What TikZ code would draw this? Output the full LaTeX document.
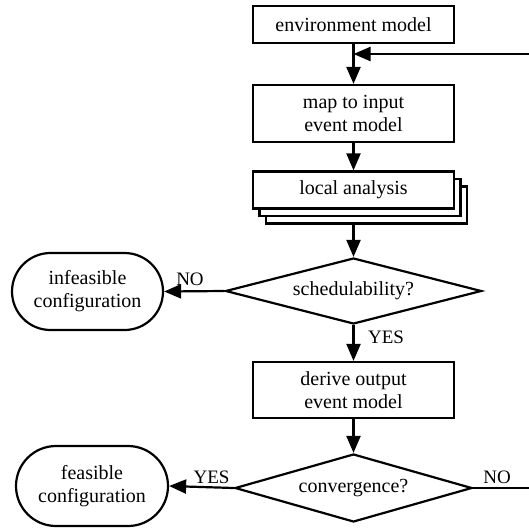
\documentclass[tikz,border=0pt]{standalone}
\usepackage{fontspec}
\setmainfont{Liberation Serif}
\usetikzlibrary{shapes.geometric,shapes.misc,shadows,arrows.meta}
\begin{document}
\begin{tikzpicture}[x=1pt,y=-1pt,
  every node/.style={font=\fontsize{20}{23}\selectfont, align=center},
  procbox/.style={draw, line width=2.2pt, fill=white, rectangle, inner sep=0pt},
  decision/.style={draw, line width=2.2pt, diamond, aspect=3.7, inner sep=0pt},
  terminal/.style={draw, line width=2.2pt, rounded rectangle, inner sep=0pt},
  flow/.style={line width=2.2pt, -{Triangle[length=17pt,width=14pt]}},
  lbl/.style={font=\fontsize{19}{21}\selectfont, inner sep=0pt}
]
\clip (0,0) rectangle (529,528);
\fill[white] (0,0) rectangle (529,528);

\node[procbox, minimum width=201, minimum height=37] (env) at (353.5,24.5) {environment model};
\node[procbox, minimum width=201, minimum height=57] (map) at (353.5,113.5) {map to input\\event model};
\node[procbox, minimum width=201, minimum height=37,
  double copy shadow={shadow xshift=6.5pt, shadow yshift=-7.5pt, fill=white, draw, line width=2.2pt}] (loc) at (353.5,190) {local analysis};
\node[decision, minimum width=256, minimum height=66] (sch) at (353.5,291) {schedulability?};
\node[terminal, minimum width=151, minimum height=77] (inf) at (87.5,291.5) {infeasible\\configuration};
\node[procbox, minimum width=201, minimum height=56] (der) at (353.5,390) {derive output\\event model};
\node[decision, minimum width=237, minimum height=68] (con) at (353.5,488) {convergence?};
\node[terminal, minimum width=152, minimum height=80] (fea) at (92,486) {feasible\\configuration};

\coordinate (j) at (353.5,54);
\coordinate (r1) at (545,488);
\coordinate (r2) at (545,54);
\coordinate (locb) at (353.5,224);

\node[lbl] (lno1) at (190,279) {NO};
\node[lbl] (lyes1) at (386,337) {YES};
\node[lbl] (lyes2) at (211.5,477) {YES};
\node[lbl] (lno2) at (497,477) {NO};

\draw[flow] (env.south) -- (map.north);
\draw[flow] (map.south) -- (loc.north);
\draw[flow] (locb) -- (sch.north);
\draw[flow] (sch.west) -- (inf.east);
\draw[flow] (sch.south) -- (der.north);
\draw[flow] (der.south) -- (con.north);
\draw[flow] (con.west) -- (fea.east);
\draw[flow] (con.east) -- (r1) -- (r2) -- (j);
\end{tikzpicture}
\end{document}
